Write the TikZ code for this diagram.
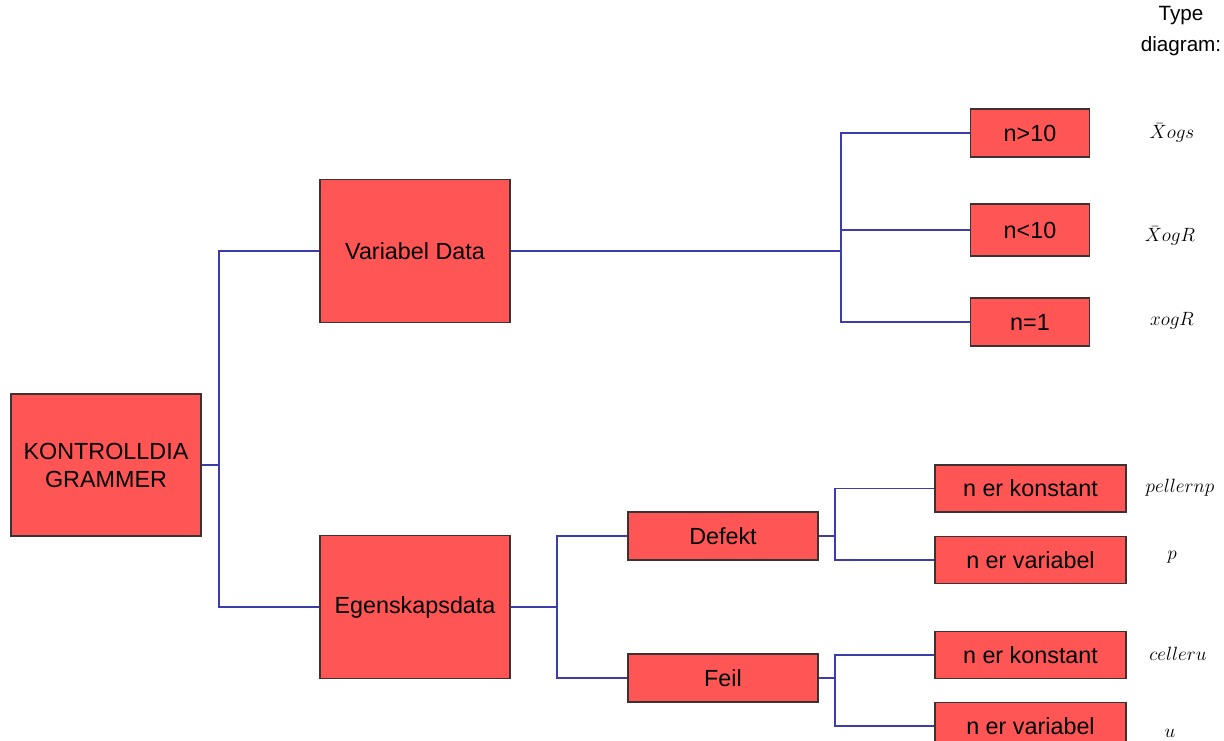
\documentclass[tikz,border=0pt]{standalone}
\usepackage{fontspec}
\setmainfont{Liberation Sans}
\definecolor{boxred}{RGB}{255,85,85}
\definecolor{boxedge}{RGB}{60,50,50}
\definecolor{linkblue}{RGB}{60,60,170}
\tikzset{
    box/.style={draw=boxedge, fill=boxred, line width=1.1pt, inner sep=0pt, align=center,
                font=\fontsize{17.5}{21}\selectfont},
    link/.style={draw=linkblue, line width=1.1pt},
    kind/.style={font=\fontsize{15}{18}\selectfont}
}
\begin{document}
\begin{tikzpicture}[x=0.75pt, y=-0.75pt]
                \useasboundingbox (0,0) rectangle (1224,741);
                \clip (0,0) rectangle (1224,741);
                \node[box, minimum width=142.5pt, minimum height=106.5pt] at (106,465) (root) {KONTROLLDIA\\GRAMMER};
                \node[box, minimum width=142.5pt, minimum height=107pt] at (415,251) (vardata) {Variabel Data};
                \node[box, minimum width=142.5pt, minimum height=107pt] at (415,607) (egendata) {Egenskapsdata};
                \node[box, minimum width=89.25pt, minimum height=36pt] at (1030,133) (gt) {n>10};
                \node[box, minimum width=89.25pt, minimum height=39pt] at (1030,230) (lt) {n<10};
                \node[box, minimum width=89.25pt, minimum height=36pt] at (1030,322) (eq) {n=1};
                \node[box, minimum width=142.5pt, minimum height=36pt] at (723,536) (defekt) {Defekt};
                \node[box, minimum width=142.5pt, minimum height=36pt] at (723,678) (feil) {Feil};
                \node[box, minimum width=143.25pt, minimum height=35.25pt] at (1030.5,488.5) (dkonst) {n er konstant};
                \node[box, minimum width=143.25pt, minimum height=35.25pt] at (1030.5,560) (dvar) {n er variabel};
                \node[box, minimum width=143.25pt, minimum height=35.25pt] at (1030.5,655) (fkonst) {n er konstant};
                \node[box, minimum width=143.25pt, minimum height=35.25pt] at (1030.5,726) (fvar) {n er variabel};
                \coordinate (rootfork) at (219,465);
                \coordinate (varfork) at (841,251);
                \coordinate (egenfork) at (557,607);
                \coordinate (defektfork) at (835,536);
                \coordinate (feilfork) at (835,678);
                \draw[link] (root.east) -- (rootfork) |- (vardata.west);
                \draw[link] (rootfork) |- (egendata.west);
                \draw[link] (vardata.east) -- (varfork) |- (gt.west);
                \draw[link] (varfork) |- (lt.west);
                \draw[link] (varfork) |- (eq.west);
                \draw[link] (egendata.east) -- (egenfork) |- (defekt.west);
                \draw[link] (egenfork) |- (feil.west);
                \draw[link] (defekt.east) -- (defektfork) |- (dkonst.west);
                \draw[link] (defektfork) |- (dvar.west);
                \draw[link] (feil.east) -- (feilfork) |- (fkonst.west);
                \draw[link] (feilfork) |- (fvar.west);
                \node[align=center, font=\fontsize{15.5}{23}\selectfont] at (1181,31) (typehead) {Type\\diagram:};
                \node[kind] at (1172,133) (kgt) {$\bar{X}ogs$};
                \node[kind] at (1170,236) (klt) {$\bar{X}ogR$};
                \node[kind] at (1172,321) (keq) {$xogR$};
                \node[kind] at (1180,488) (kdkonst) {$pellernp$};
                \node[kind] at (1172,557) (kdvar) {$p$};
                \node[kind] at (1178,654) (kfkonst) {$celleru$};
                \node[kind] at (1170,733) (kfvar) {$u$};
            \end{tikzpicture}
\end{document}
